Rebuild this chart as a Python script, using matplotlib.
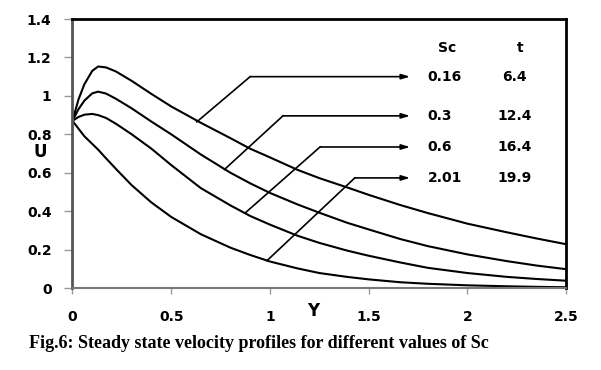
import numpy as np
import matplotlib
matplotlib.use("Agg")
import matplotlib.pyplot as plt

# values
y_pos = [0, 0.03, 0.06, 0.1, 0.13, 0.17, 0.22, 0.3, 0.4, 0.5, 0.65, 0.8, 0.9, 1.0,
         1.14, 1.25, 1.39, 1.5, 1.66, 1.8, 2.0, 2.2, 2.35, 2.5]
u_sc016 = [0.87, 0.98, 1.06, 1.13, 1.153, 1.148, 1.127, 1.078, 1.01, 0.945, 0.86, 0.78, 0.725, 0.68,
           0.615, 0.572, 0.524, 0.485, 0.432, 0.39, 0.335, 0.29, 0.258, 0.228]
u_sc03 = [0.87, 0.93, 0.975, 1.013, 1.022, 1.012, 0.985, 0.935, 0.866, 0.80, 0.695, 0.60, 0.545, 0.495,
          0.435, 0.392, 0.34, 0.305, 0.255, 0.218, 0.175, 0.14, 0.117, 0.098]
u_sc06 = [0.87, 0.89, 0.902, 0.906, 0.90, 0.885, 0.855, 0.80, 0.725, 0.64, 0.52, 0.43, 0.375, 0.33,
          0.272, 0.235, 0.195, 0.168, 0.133, 0.105, 0.078, 0.058, 0.047, 0.038]
u_sc201 = [0.87, 0.83, 0.79, 0.75, 0.72, 0.675, 0.62, 0.535, 0.445, 0.37, 0.28, 0.21, 0.172, 0.138,
           0.102, 0.078, 0.058, 0.045, 0.03, 0.022, 0.014, 0.009, 0.006, 0.004]

sc_labels = ["0.16", "0.3", "0.6", "2.01"]
t_labels = ["6.4", "12.4", "16.4", "19.9"]

# pointer lines: start on curve, elbow, arrow tip
ptr_start = [(0.63, 0.865), (0.77, 0.617), (0.874, 0.39), (0.985, 0.142)]
ptr_elbow = [(0.90, 1.10), (1.066, 0.896), (1.254, 0.734), (1.43, 0.573)]
ptr_tip_x = 1.71

fig = plt.figure(figsize=(6.01, 3.70), dpi=100)
ax = fig.add_axes([0.1206, 0.2216, 0.8212, 0.727])

for u in [u_sc016, u_sc03, u_sc06, u_sc201]:
    ax.plot(y_pos, u, color="black", lw=1.5, solid_joinstyle="round")

for i in range(4):
    (x0, y0), (x1, y1) = ptr_start[i], ptr_elbow[i]
    ax.plot([x0, x1], [y0, y1], color="black", lw=1.2)
    ax.annotate("", xy=(ptr_tip_x, y1), xytext=(x1, y1),
                arrowprops=dict(arrowstyle="-|>,head_length=0.5,head_width=0.15",
                                color="black", lw=1.2, shrinkA=0, shrinkB=0))
    ax.text(1.80, y1, sc_labels[i], fontsize=10, fontweight="bold", ha="left", va="center")
    ax.text(2.24, y1, t_labels[i], fontsize=10, fontweight="bold", ha="center", va="center")

ax.text(1.90, 1.25, "Sc", fontsize=10, fontweight="bold", ha="center", va="center")
ax.text(2.27, 1.25, "t", fontsize=10, fontweight="bold", ha="center", va="center")

ax.set_xlim(0, 2.5)
ax.set_ylim(0, 1.4)
ax.set_xticks([0, 0.5, 1, 1.5, 2, 2.5])
ax.set_xticklabels(["0", "0.5", "1", "1.5", "2", "2.5"])
ax.set_yticks(np.arange(0, 1.41, 0.2))
ax.set_yticklabels(["0", "0.2", "0.4", "0.6", "0.8", "1", "1.2", "1.4"])
ax.tick_params(axis="both", direction="out", color="#999999", labelsize=10, width=1)
ax.tick_params(axis="y", length=6, pad=9)
ax.tick_params(axis="x", length=4, pad=12)
for lab in ax.get_xticklabels() + ax.get_yticklabels():
    lab.set_fontweight("bold")

for side in ["top", "right"]:
    ax.spines[side].set_color("black")
    ax.spines[side].set_linewidth(2)
ax.spines["left"].set_color("#555555")
ax.spines["left"].set_linewidth(2)
ax.spines["bottom"].set_color("#777777")
ax.spines["bottom"].set_linewidth(1.5)

fig.text(40 / 601, 1 - 152 / 370, "U", fontsize=12, fontweight="bold", ha="center", va="center")
fig.text(313 / 601, 1 - 311 / 370, "Y", fontsize=12, fontweight="bold", ha="center", va="center")

fig.text(259 / 601, 1 - 343 / 370, "Fig.6: Steady state velocity profiles for different values of Sc",
         fontsize=13, fontweight="bold", family="Liberation Serif", ha="center", va="center")

fig.savefig("out.png", dpi=100)
